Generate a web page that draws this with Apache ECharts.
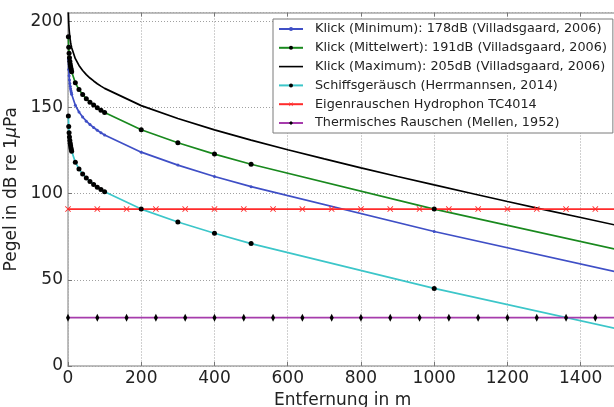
<!DOCTYPE html>
<html>
<head>
<meta charset="utf-8">
<script src="https://cdn.jsdelivr.net/npm/echarts@6/dist/echarts.min.js"></script>
<style>
    html, body { margin: 0; padding: 0; background: #fff; }
    #chart { width: 614px; height: 407px; }
</style>
</head>
<body>
<div id="chart"></div>
<script>
// Entfernung (m) der Stützpunkte
var distance = [1, 2, 3, 4, 5, 6, 7, 8, 9, 10, 20, 30, 40, 50, 60, 70, 80, 90, 100, 200, 300, 400, 500, 1000, 1500];
var distanceFine = [1, 2, 3, 4, 5, 6, 7, 8, 9, 10, 20, 30, 40, 50, 60, 70, 80, 90, 100, 200, 300, 400, 500,
    600, 700, 800, 900, 1000, 1100, 1200, 1300, 1400, 1500];
var distanceNoise = [0, 80, 160, 240, 320, 400, 480, 560, 640, 720, 800, 880, 960, 1040, 1120, 1200, 1280, 1360, 1440, 1520];

// Pegel (dB re 1 uPa)
var klickMin = [178.0, 171.9, 168.3, 165.8, 163.8, 162.2, 160.8, 159.6, 158.6, 157.6, 151.2, 147.3, 144.4, 142.0,
    140.0, 138.3, 136.7, 135.3, 134.0, 124.0, 116.5, 109.9, 104.0, 78.0, 54.5];
var klickMittel = [191.0, 184.9, 181.3, 178.8, 176.8, 175.2, 173.8, 172.6, 171.6, 170.6, 164.2, 160.3, 157.4, 155.0,
    153.0, 151.3, 149.7, 148.3, 147.0, 137.0, 129.5, 122.9, 117.0, 91.0, 67.5];
var klickMax = [205.0, 198.9, 195.3, 192.8, 190.8, 189.2, 187.8, 186.6, 185.6, 184.6, 178.2, 174.3, 171.4, 169.0,
    167.0, 165.3, 163.7, 162.3, 161.0, 151.0, 143.5, 136.9, 131.0, 125.4, 120.1, 114.9, 109.9, 105.0, 100.2, 95.4,
    90.7, 86.1, 81.5];
var schiff = [145.0, 138.9, 135.3, 132.8, 130.8, 129.2, 127.8, 126.6, 125.6, 124.6, 118.2, 114.3, 111.4, 109.0,
    107.0, 105.3, 103.7, 102.3, 101.0, 91.0, 83.5, 77.0, 71.0, 45.0, 21.5];
var hydrophon = [91, 91, 91, 91, 91, 91, 91, 91, 91, 91, 91, 91, 91, 91, 91, 91, 91, 91, 91, 91];
var thermisch = [28, 28, 28, 28, 28, 28, 28, 28, 28, 28, 28, 28, 28, 28, 28, 28, 28, 28, 28, 28];

var names = [
    'Klick (Minimum): 178dB (Villadsgaard, 2006)',
    'Klick (Mittelwert): 191dB (Villadsgaard, 2006)',
    'Klick (Maximum): 205dB (Villadsgaard, 2006)',
    'Schiffsgeräusch (Herrmannsen, 2014)',
    'Eigenrauschen Hydrophon TC4014',
    'Thermisches Rauschen (Mellen, 1952)'
];

function pairs(xs, ys) {
    var res = [];
    for (var i = 0; i < xs.length; i++) {
        res.push([xs[i], ys[i]]);
    }
    return res;
}

var font = 'DejaVu Sans';
var spine = '#a8a8a8';
var crossPath = 'path://M0,1L1,0L5,4L9,0L10,1L6,5L10,9L9,10L5,6L1,10L0,9L4,5Z';

function line(name, xs, ys, color, symbol, size, symbolColor) {
    return {
        name: name,
        type: 'line',
        data: pairs(xs, ys),
        symbol: symbol,
        symbolSize: size,
        showSymbol: symbol !== 'none',
        lineStyle: {color: color, width: 1.7},
        itemStyle: {color: symbolColor || color, borderWidth: 0},
        emphasis: {disabled: true},
        animation: false,
        clip: true
    };
}

var myChart = echarts.init(document.getElementById('chart'));
myChart.setOption({
    backgroundColor: '#fff',
    textStyle: {fontFamily: font},
    grid: {left: 68, top: 12.5, width: 549.3, height: 353.5, outerBoundsMode: 'none', containLabel: false},
    legend: {
        orient: 'vertical',
        left: 273,
        top: 19,
        data: [
            names[0], names[1],
            {name: names[2], icon: 'path://M0,0H24V1.6H0Z'},
            names[3], names[4], names[5]
        ],
        itemWidth: 24,
        itemHeight: 5,
        itemGap: 5.8,
        padding: [3.5, 6, 3.5, 5],
        backgroundColor: '#fff',
        borderColor: '#7a7a7a',
        borderWidth: 1,
        borderRadius: 0,
        textStyle: {fontFamily: font, fontSize: 12.8, color: '#222', padding: [0, 0, 0, 7]}
    },
    xAxis: [{
        type: 'value',
        min: 0,
        max: 1500,
        interval: 200,
        name: 'Entfernung in m',
        nameLocation: 'middle',
        nameGap: 21,
        nameTextStyle: {fontFamily: font, fontSize: 17, color: '#222'},
        axisLine: {lineStyle: {color: spine, width: 1.5}},
        axisTick: {inside: true, length: 4, lineStyle: {color: '#777'}},
        axisLabel: {
            fontFamily: font, fontSize: 17, color: '#222', margin: 4, showMaxLabel: false,
            formatter: function (v) { return String(v); }
        },
        splitLine: {show: true, lineStyle: {color: '#a0a0a0', type: [1, 2], width: 1}}
    }, {
        type: 'value',
        position: 'top',
        min: 0,
        max: 1500,
        interval: 200,
        axisLine: {show: true, lineStyle: {color: spine, width: 1.5}},
        axisTick: {inside: true, length: 4, lineStyle: {color: '#777'}},
        axisLabel: {show: false},
        splitLine: {show: false}
    }],
    yAxis: {
        type: 'value',
        min: 0,
        max: 205,
        interval: 50,
        name: 'Pegel in dB re 1{mu|μ}Pa',
        nameLocation: 'middle',
        nameGap: 45,
        nameTextStyle: {
            fontFamily: font, fontSize: 17, color: '#222',
            rich: {mu: {fontFamily: font, fontSize: 17, fontStyle: 'italic', color: '#222'}}
        },
        axisLine: {show: true, lineStyle: {color: spine, width: 1.5}},
        axisTick: {inside: true, length: 4, lineStyle: {color: '#777'}},
        axisLabel: {
            fontFamily: font, fontSize: 17, color: '#222', margin: 5, showMaxLabel: false,
            formatter: function (v) { return String(v); }
        },
        splitLine: {show: true, lineStyle: {color: '#a0a0a0', type: [1, 2], width: 1}}
    },
    series: [
        line(names[0], distance, klickMin, '#3f4fc6', 'circle', 3),
        line(names[1], distance, klickMittel, '#19891e', 'circle', 5, '#000'),
        line(names[2], distanceFine, klickMax, '#000', 'none', 0),
        line(names[3], distance, schiff, '#3cc6c9', 'circle', 5, '#000'),
        line(names[4], distanceNoise, hydrophon, '#ff2b2b', crossPath, 6),
        line(names[5], distanceNoise, thermisch, '#a63cac', 'diamond', [4, 8], '#000')
    ]
});
</script>
</body>
</html>
